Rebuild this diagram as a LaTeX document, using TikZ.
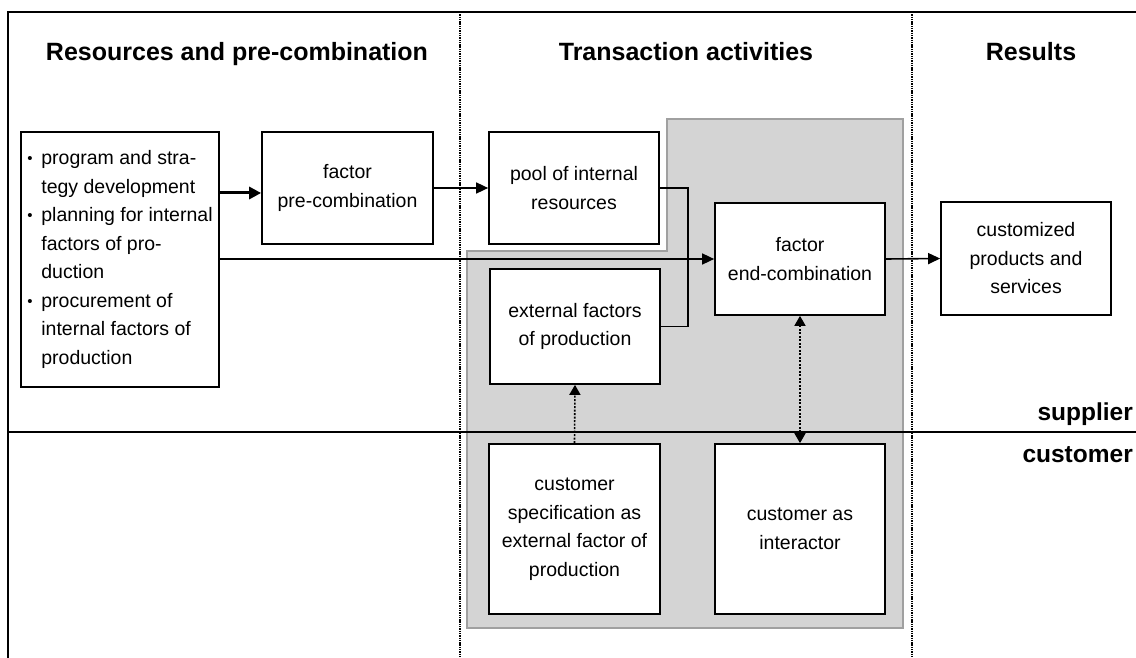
\documentclass[tikz,border=0pt]{standalone}
\usepackage{fontspec}
\setmainfont{Liberation Sans}
\usetikzlibrary{arrows.meta}
\definecolor{regionfill}{HTML}{D4D4D4}
\definecolor{regionline}{HTML}{A0A0A0}
\newcommand{\bul}{\makebox[14pt][l]{\fontsize{15}{15}\selectfont\raisebox{1pt}{\textbullet}}}
\begin{document}
\begin{tikzpicture}[x=1pt,y=-1pt,
  box/.style={draw, line width=1.7pt, fill=white, inner sep=0pt, align=center,
    font=\fontsize{19.5}{28.5}\selectfont},
  heading/.style={font=\bfseries\fontsize{25}{28}\selectfont, inner sep=0pt},
  side/.style={font=\bfseries\fontsize{24.5}{28}\selectfont, inner sep=0pt},
  conn/.style={line width=1.6pt, -{Triangle[length=12pt,width=11pt]}},
  thickconn/.style={line width=3pt, -{Triangle[length=12pt,width=12pt]}},
  plainconn/.style={line width=1.6pt},
  dconn/.style={line width=1.6pt, dash pattern=on 2pt off 1.5pt},
  sepline/.style={line width=2.8pt, dash pattern=on 1.4pt off 0.9pt},
  frame/.style={line width=2pt}]
\useasboundingbox (0,0) rectangle (1136,658);

% shaded transaction region
\filldraw[fill=regionfill, draw=regionline, line width=1.2pt]
  (467,628) -- (467,251) -- (667,251) -- (667,119) -- (903,119) -- (903,628) -- cycle;

% frame and separators
\draw[frame] (1136,12) -- (8,12) -- (8,658);
\draw[sepline] (460,12) -- (460,658);
\draw[sepline] (912,12) -- (912,658);
\draw[line width=1.8pt] (8,432) -- (1136,432);

% headings
\node[heading, anchor=base] (h1) at (237,61) {Resources and pre-combination};
\node[heading, anchor=base] (h2) at (686,61) {Transaction activities};
\node[heading, anchor=base] (h3) at (1031,61) {Results};
\node[side, anchor=base east] (sup) at (1133,420) {supplier};
\node[side, anchor=base east] (cus) at (1133,462) {customer};

% boxes
\node[box, align=left, minimum width=198pt, minimum height=255pt] (res) at (120,259.5)
  {\bul program and stra-\\
   \hspace*{14pt}tegy development\\
   \bul planning for internal\\
   \hspace*{14pt}factors of pro-\\
   \hspace*{14pt}duction\\
   \bul procurement of\\
   \hspace*{14pt}internal factors of\\
   \hspace*{14pt}production};
\node[box, minimum width=171pt, minimum height=112pt] (precomb) at (347.5,188) {factor\\pre-combination};
\node[box, minimum width=170pt, minimum height=112pt] (pool) at (574,188) {pool of internal\\resources};
\node[box, minimum width=170pt, minimum height=112pt] (endcomb) at (800,259) {factor\\end-combination};
\node[box, minimum width=170pt, minimum height=115pt] (ext) at (575,326.5) {external factors\\of production};
\node[box, minimum width=171pt, minimum height=170pt] (cspec) at (574.5,529) {customer\\specification as\\external factor of\\production};
\node[box, minimum width=170pt, minimum height=170pt] (cint) at (800,529) {customer as\\interactor};
\node[box, minimum width=170pt, minimum height=113pt] (prod) at (1026,258.5) {customized\\products and\\services};

% helper coordinates
\coordinate (y193) at (0,193);
\coordinate (brk) at (688,260);

% connectors
\draw[thickconn] (res.east |- y193) -- (precomb.west |- y193);
\draw[conn] (precomb.east) -- (pool.west);
\draw[conn] (res.east |- endcomb.west) -- (endcomb.west);
\draw[plainconn] (pool.east) -| (brk) |- (ext.east);
\draw[conn] (endcomb.east) -- (prod.west);
\draw[dconn, {Triangle[length=10pt,width=11pt]}-{Triangle[length=10pt,width=11pt]}] (endcomb.south) -- (cint.north);
\draw[dconn, -{Triangle[length=10pt,width=11pt]}] (cspec.north) -- (ext.south);
\end{tikzpicture}
\end{document}
